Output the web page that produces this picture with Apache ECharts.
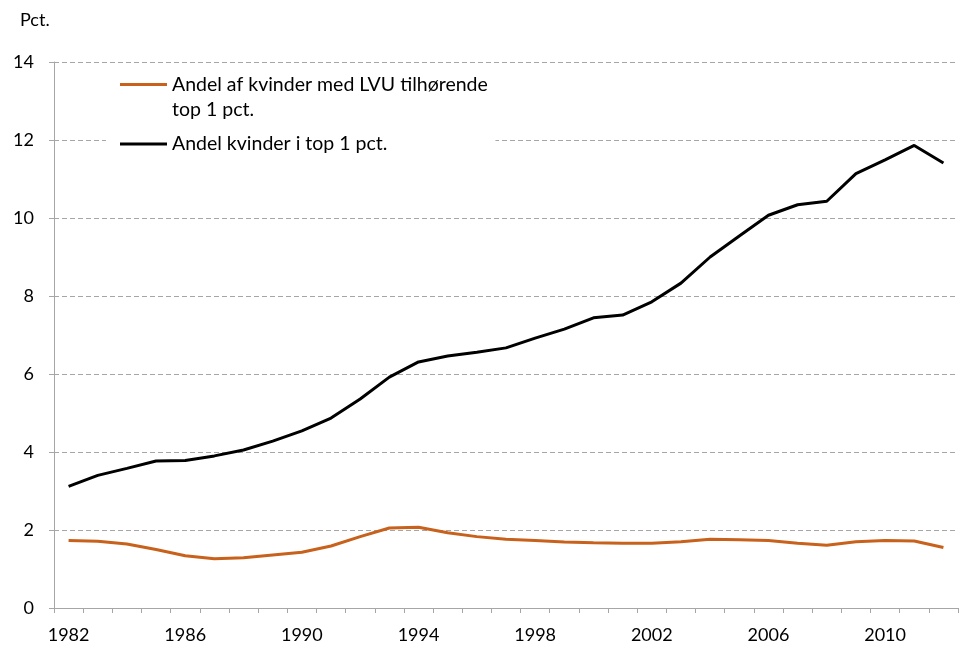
<!DOCTYPE html>
<html>
<head>
<meta charset="utf-8">
<script src="https://cdn.jsdelivr.net/npm/echarts@6/dist/echarts.min.js"></script>
<style>
  html, body { margin: 0; padding: 0; background: #fff; }
  #chart { width: 959px; height: 648px; }
</style>
</head>
<body>
<div id="chart"></div>
<script>
// årstal
const years = ['1982', '1983', '1984', '1985', '1986', '1987', '1988', '1989', '1990', '1991',
  '1992', '1993', '1994', '1995', '1996', '1997', '1998', '1999', '2000', '2001',
  '2002', '2003', '2004', '2005', '2006', '2007', '2008', '2009', '2010', '2011', '2012']

// andel af kvinder med LVU tilhørende top 1 pct.
const lvuShare = [1.73, 1.71, 1.64, 1.50, 1.34, 1.26, 1.29, 1.36, 1.43, 1.59,
  1.83, 2.05, 2.07, 1.93, 1.83, 1.76, 1.73, 1.69, 1.67, 1.66,
  1.66, 1.70, 1.76, 1.75, 1.73, 1.66, 1.61, 1.70, 1.73, 1.72, 1.55]

// andel kvinder i top 1 pct.
const womenShare = [3.12, 3.40, 3.58, 3.77, 3.78, 3.90, 4.05, 4.28, 4.54, 4.87,
  5.36, 5.92, 6.31, 6.46, 6.56, 6.67, 6.92, 7.15, 7.44, 7.51,
  7.85, 8.33, 9.00, 9.54, 10.07, 10.34, 10.43, 11.14, 11.49, 11.86, 11.41]

const nameLvu = 'Andel af kvinder med LVU tilhørende\ntop 1 pct.'
const nameWomen = 'Andel kvinder i top 1 pct.'

const font = 'Lato, "Open Sans", sans-serif'
const chart = echarts.init(document.getElementById('chart'))

chart.setOption({
  animation: false,
  textStyle: { fontFamily: font },
  grid: { left: 54, right: 1, top: 62, bottom: 40 },
  legend: [
    {
      // orange - blank first line so the icon sits by the first text line
      data: [nameLvu],
      formatter: name => '\n' + name,
      left: 120,
      top: 47,
      padding: 0,
      icon: 'rect',
      itemWidth: 47,
      itemHeight: 3,
      textStyle: { fontFamily: font, fontSize: 19.5, color: '#000', lineHeight: 25 }
    },
    {
      // black, with white box that hides the gridline
      data: [nameWomen],
      left: 106,
      top: 130,
      padding: [4, 108, 4, 14],
      backgroundColor: '#fff',
      icon: 'rect',
      itemWidth: 47,
      itemHeight: 3,
      textStyle: { fontFamily: font, fontSize: 19.5, color: '#000' }
    }
  ],
  graphic: [
    {
      type: 'text',
      left: 20,
      top: 11,
      style: { text: 'Pct.', font: '18px ' + font, fill: '#000' }
    }
  ],
  xAxis: {
    type: 'category',
    data: years,
    boundaryGap: true,
    axisLine: { lineStyle: { color: '#a6a6a6', width: 1 } },
    axisTick: { show: true, interval: 0, length: 5, lineStyle: { color: '#a6a6a6' } },
    axisLabel: { interval: 3, margin: 18, color: '#000', fontSize: 18, fontFamily: font },
    splitLine: { show: false }
  },
  yAxis: {
    type: 'value',
    min: 0,
    max: 14,
    interval: 2,
    axisLine: { show: true, lineStyle: { color: '#a6a6a6', width: 1 } },
    axisTick: { show: true, length: 5, lineStyle: { color: '#a6a6a6' } },
    axisLabel: { margin: 20, color: '#000', fontSize: 18, fontFamily: font },
    splitLine: { lineStyle: { color: '#a6a6a6', type: [5, 3], width: 1 } }
  },
  series: [
    {
      name: nameLvu,
      type: 'line',
      data: lvuShare,
      symbol: 'none',
      lineStyle: { color: '#c8611b', width: 3 },
      itemStyle: { color: '#c8611b' }
    },
    {
      name: nameWomen,
      type: 'line',
      data: womenShare,
      symbol: 'none',
      lineStyle: { color: '#000', width: 3 },
      itemStyle: { color: '#000' }
    }
  ]
})
</script>
</body>
</html>
